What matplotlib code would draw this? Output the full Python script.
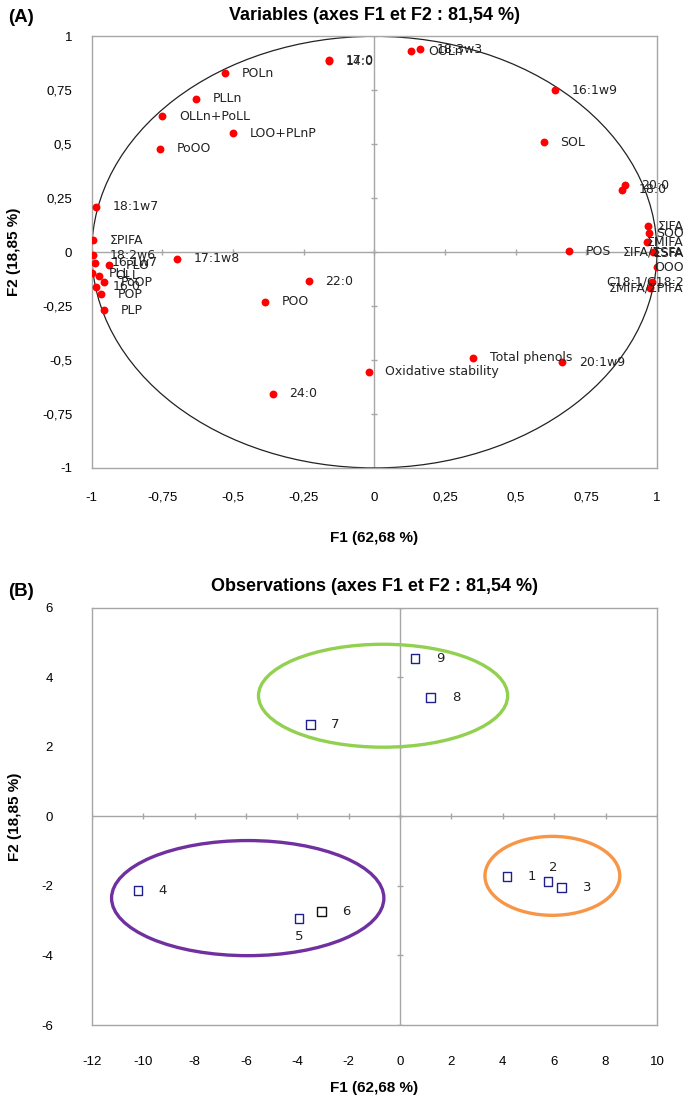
import matplotlib
matplotlib.use("Agg")
import matplotlib.pyplot as plt
from matplotlib.patches import Ellipse
from matplotlib.ticker import FuncFormatter, MultipleLocator
from matplotlib.transforms import blended_transform_factory

# --- Panel A: correlation circle (variables) ---
var_names = ['17:0', '14:0', '18:3w3', 'OOLn', '16:1w9', 'SOL', '20:0', '18:0',
             'POLn', 'PLLn', 'OLLn+PoLL', 'LOO+PLnP', 'PoOO', '18:1w7',
             'ΣPIFA', '18:2w6', '16:1w7', 'PLO', 'PLL', 'OLL', 'PoOP', '16:0',
             'POP', 'PLP', '17:1w8', 'ΣIFA', 'SOO', 'ΣMIFA', 'POS', 'ΣIFA/ΣSFA',
             'ΣSFA', 'OOO', 'C18:1/C18:2', 'ΣMIFA/ΣPIFA', '22:0', 'POO', '24:0',
             'Oxidative stability', 'Total phenols', '20:1w9']
var_f1 = [-0.16, -0.16, 0.16, 0.13, 0.64, 0.60, 0.886, 0.875,
          -0.53, -0.63, -0.75, -0.50, -0.76, -0.986,
          -0.996, -0.996, -0.99, -0.94, -1.0, -0.975, -0.957, -0.986,
          -0.968, -0.957, -0.70, 0.968, 0.971, 0.964, 0.69, 0.986,
          1.0, 1.0, 0.982, 0.975, -0.232, -0.386, -0.36,
          -0.02, 0.35, 0.664]
var_f2 = [0.89, 0.885, 0.94, 0.93, 0.75, 0.51, 0.31, 0.29,
          0.83, 0.71, 0.63, 0.55, 0.48, 0.21,
          0.056, -0.014, -0.05, -0.06, -0.097, -0.11, -0.14, -0.16,
          -0.195, -0.27, -0.03, 0.12, 0.088, 0.046, 0.005, 0.0,
          -0.005, -0.07, -0.14, -0.167, -0.134, -0.23, -0.657,
          -0.555, -0.49, -0.51]

# --- Panel B: observations ---
obs_names = ['1', '2', '3', '4', '5', '6', '7', '8', '9']
obs_f1 = [4.16, 5.76, 6.3, -10.2, -3.93, -3.07, -3.5, 1.2, 0.58]
obs_f2 = [-1.73, -1.87, -2.04, -2.13, -2.93, -2.73, 2.65, 3.42, 4.55]

# groups drawn as ellipses: centre x, centre y, width, height
group_cx = [-0.66, -5.93, 5.93]
group_cy = [3.47, -2.35, -1.71]
group_w = [9.7, 10.6, 5.25]
group_h = [2.96, 3.31, 2.27]
group_colors = ['#92D050', '#7030A0', '#F79646']

TICK_FONT = ['Liberation Sans Narrow', 'Liberation Sans', 'DejaVu Sans']
GRAY = '#a6a6a6'


def comma(v, pos=None):
    return ('%g' % v).replace('.', ',')


def style_axes(ax, step_x, step_y, xpad, ypad):
    for sp in ax.spines.values():
        sp.set_color(GRAY)
        sp.set_linewidth(1)
    ax.xaxis.set_major_locator(MultipleLocator(step_x))
    ax.yaxis.set_major_locator(MultipleLocator(step_y))
    ax.xaxis.set_major_formatter(FuncFormatter(comma))
    ax.yaxis.set_major_formatter(FuncFormatter(comma))
    ax.tick_params(length=0, labelsize=9.5, colors='#000000')
    ax.tick_params(axis='x', pad=xpad)
    ax.tick_params(axis='y', pad=ypad)
    for lab in ax.get_xticklabels() + ax.get_yticklabels():
        lab.set_fontfamily(TICK_FONT)
    # excel-like zero axes with small tick crosses
    ax.axhline(0, color=GRAY, lw=1, zorder=1)
    ax.axvline(0, color=GRAY, lw=1, zorder=1)
    xt = [t for t in ax.get_xticks() if ax.get_xlim()[0] <= t <= ax.get_xlim()[1]]
    yt = [t for t in ax.get_yticks() if ax.get_ylim()[0] <= t <= ax.get_ylim()[1]]
    ax.plot(xt, [0] * len(xt), ls='none', marker='|', ms=5, color=GRAY, zorder=1)
    ax.plot([0] * len(yt), yt, ls='none', marker='_', ms=5, color=GRAY, zorder=1)


fig = plt.figure(figsize=(6.85, 11.01), dpi=100)

# ---------------- Panel A ----------------
axA = fig.add_axes([0.134, 0.575, 0.825, 0.392])
axA.set_xlim(-1, 1)
axA.set_ylim(-1, 1)
axA.add_patch(Ellipse((0, 0), 2, 2, fill=False, ec='#222222', lw=0.9, zorder=2))
style_axes(axA, 0.25, 0.25, 17, 14)
axA.scatter(var_f1, var_f2, s=32, color='#ff0000', zorder=3, linewidths=0)

edge = blended_transform_factory(fig.transFigure, axA.transData)
for name, x, y in zip(var_names, var_f1, var_f2):
    if x > 0.95:
        axA.text(0.998, y, name, transform=edge, ha='right', va='center',
                 fontsize=9, color='#222222', zorder=4)
    else:
        axA.annotate(name, (x, y), xytext=(12, 0), textcoords='offset points',
                     ha='left', va='center', fontsize=9, color='#222222', zorder=4)

axA.set_title('Variables (axes F1 et F2 : 81,54 %)', fontsize=13, fontweight='bold',
              family=TICK_FONT, pad=12)
axA.set_xlabel('F1 (62,68 %)', fontsize=11, fontweight='bold', family=TICK_FONT,
               labelpad=20)
axA.set_ylabel('F2 (18,85 %)', fontsize=11, fontweight='bold', family=TICK_FONT,
               labelpad=15)

# ---------------- Panel B ----------------
axB = fig.add_axes([0.134, 0.069, 0.825, 0.379])
axB.set_xlim(-12, 10)
axB.set_ylim(-6, 6)
style_axes(axB, 2, 2, 22, 28)
for cx, cy, w, h, c in zip(group_cx, group_cy, group_w, group_h, group_colors):
    axB.add_patch(Ellipse((cx, cy), w, h, fill=False, ec=c, lw=2.4, zorder=2))

edge_cols = ['#1F1F8F'] * len(obs_names)
edge_cols[obs_names.index('6')] = '#111111'
axB.scatter(obs_f1, obs_f2, s=40, marker='s', facecolors='white',
            edgecolors=edge_cols, linewidths=1, zorder=3)
label_offsets = {'2': (4, 10), '5': (0, -13)}
for name, x, y in zip(obs_names, obs_f1, obs_f2):
    dx, dy = label_offsets.get(name, (15, 0))
    axB.annotate(name, (x, y), xytext=(dx, dy), textcoords='offset points',
                 ha='left' if dx > 5 else 'center', va='center', fontsize=9.5,
                 color='#222222', zorder=4)

axB.set_title('Observations (axes F1 et F2 : 81,54 %)', fontsize=13,
              fontweight='bold', family=TICK_FONT, pad=12)
axB.set_xlabel('F1 (62,68 %)', fontsize=11, fontweight='bold', family=TICK_FONT,
               labelpad=10)
axB.set_ylabel('F2 (18,85 %)', fontsize=11, fontweight='bold', family=TICK_FONT,
               labelpad=14)

# panel letters
fig.text(0.012, 0.984, '(A)', fontsize=13.5, fontweight='bold',
         family=['Liberation Sans', 'DejaVu Sans'], va='center')
fig.text(0.012, 0.463, '(B)', fontsize=13.5, fontweight='bold',
         family=['Liberation Sans', 'DejaVu Sans'], va='center')

fig.savefig('out.png', dpi=100)
